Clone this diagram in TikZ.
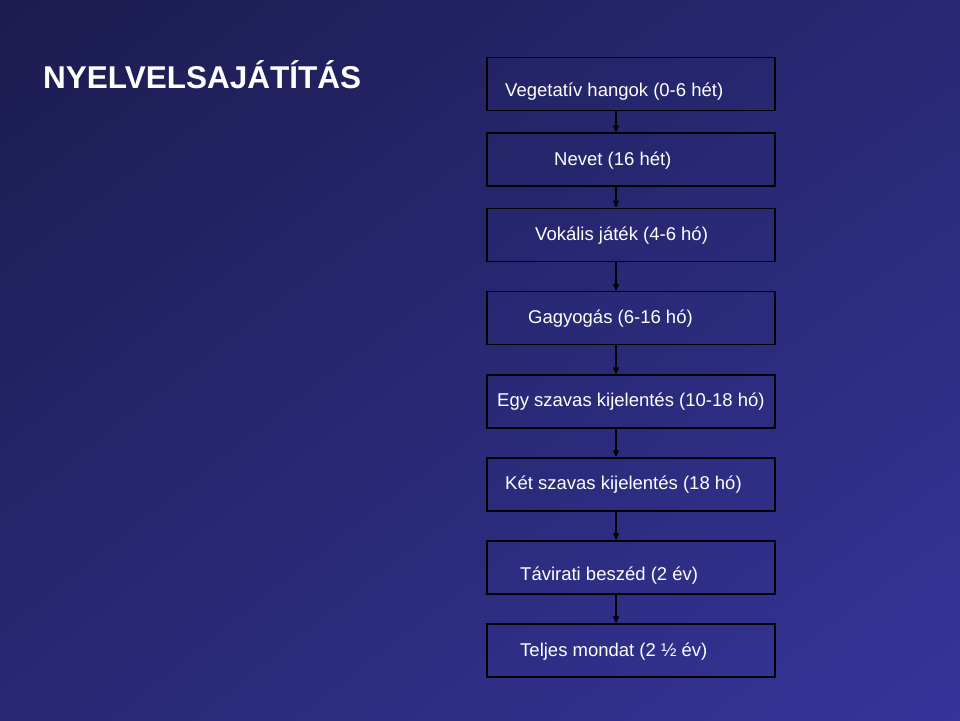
\documentclass[tikz,border=0pt]{standalone}
\usepackage{fontspec}
\setmainfont{Liberation Sans}
\usetikzlibrary{positioning, arrows.meta, shadings}

\definecolor{bgdark}{HTML}{1C1C50}
\definecolor{bgmid}{HTML}{282874}
\definecolor{bglight}{HTML}{35359A}

\begin{document}
\begin{tikzpicture}[
    x=1pt, y=-1pt,
    stage/.style={draw=black, line width=1.4pt, minimum width=288pt, minimum height=53pt, inner sep=0pt},
    stagetext/.style={text=white, font=\fontsize{18.5}{22}\selectfont, inner sep=0pt, anchor=base west},
    every edge/.append style={draw=black, line width=1.2pt, -{Triangle[length=7pt, width=6pt]}}
]

   % Background
   \useasboundingbox (0,0) rectangle (960,720);
   \shade[upper left=bgdark, upper right=bgmid, lower left=bgmid, lower right=bglight] (0,0) rectangle (960,720);

   % Title
   \node[text=white, font=\fontsize{31.5}{36}\selectfont\bfseries, inner sep=0pt, anchor=base west] (title) at (43,88) {NYELVELSAJÁTÍTÁS};

   % Boxes
   \node[stage] (veg) at (631,83.7) {};
   \node[stage] (nev) at (631,159.5) {};
   \node[stage] (vok) at (631,234.7) {};
   \node[stage] (gag) at (631,318) {};
   \node[stage] (egy) at (631,401.5) {};
   \node[stage] (ket) at (631,484.5) {};
   \node[stage] (tav) at (631,567.5) {};
   \node[stage] (tel) at (631,650.5) {};

   % Texts
   \node[stagetext] (vegtext) at (505,96) {Vegetatív hangok (0-6 hét)};
   \node[stagetext] (nevtext) at (554,165) {Nevet (16 hét)};
   \node[stagetext] (voktext) at (535,240) {Vokális játék (4-6 hó)};
   \node[stagetext] (gagtext) at (528,323) {Gagyogás (6-16 hó)};
   \node[stagetext] (egytext) at (497,406) {Egy szavas kijelentés (10-18 hó)};
   \node[stagetext] (kettext) at (505,489) {Két szavas kijelentés (18 hó)};
   \node[stagetext] (tavtext) at (520,580) {Távirati beszéd (2 év)};
   \node[stagetext] (teltext) at (520,656) {Teljes mondat (2 ½ év)};

   % Arrows
   \coordinate (axis) at (616,0);
   \path
   (veg.south -| axis) edge (nev.north -| axis)
   (nev.south -| axis) edge (vok.north -| axis)
   (vok.south -| axis) edge (gag.north -| axis)
   (gag.south -| axis) edge (egy.north -| axis)
   (egy.south -| axis) edge (ket.north -| axis)
   (ket.south -| axis) edge (tav.north -| axis)
   (tav.south -| axis) edge (tel.north -| axis);

\end{tikzpicture}
\end{document}
